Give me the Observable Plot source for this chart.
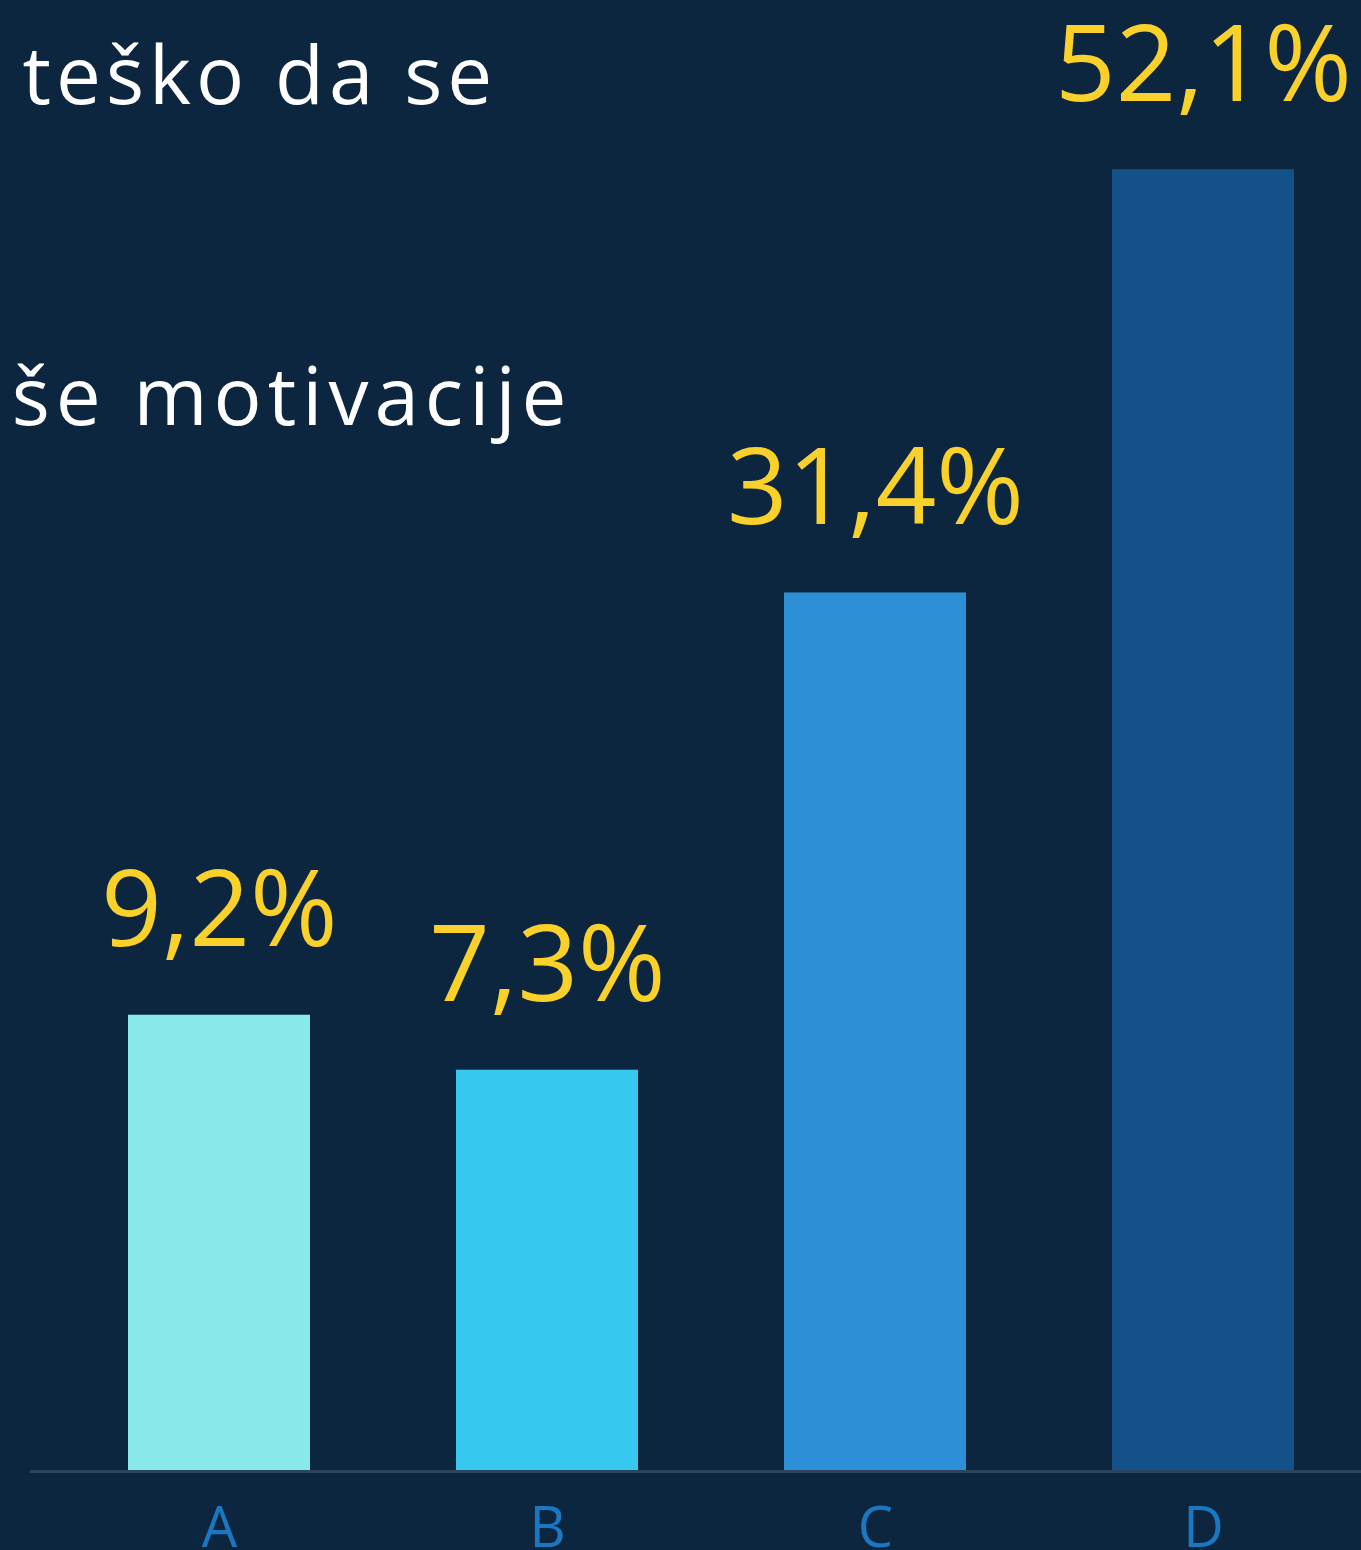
<!DOCTYPE html>
<html>
<head>
<meta charset="utf-8">
<script src="https://cdn.jsdelivr.net/npm/d3@7"></script>
<script src="https://cdn.jsdelivr.net/npm/@observablehq/plot@0.6"></script>
<style>
  html, body { margin: 0; padding: 0; background: #0d2640; overflow: hidden; }
  #chart svg { display: block; }
</style>
</head>
<body>
<div id="chart"></div>
<script>
// Categories and values
const categories = ["A", "B", "C", "D"];
const barHeights = [18.26, 16.06, 35.16, 52.1];       // bar lengths as drawn
const valueLabels = ["9,2%", "7,3%", "31,4%", "52,1%"]; // printed labels
const barColors = ["#88e9e8", "#37c8ef", "#2d8fd5", "#155189"];
const headerLines = ["teško da se", "više motivacije"];

const data = categories.map((c, i) => ({
  cat: c, h: barHeights[i], label: valueLabels[i], color: barColors[i]
}));

const W = 1361, H = 1550;

const plot = Plot.plot({
  width: W,
  height: H,
  marginTop: 0,
  marginBottom: 79,
  marginLeft: 30,
  marginRight: 0,
  style: { background: "#0d2640", fontFamily: "'Open Sans', sans-serif", overflow: "visible" },
  x: { domain: categories, range: [54, 1367.3], paddingInner: 0.446, paddingOuter: 0.223, axis: null },
  y: { domain: [0, 58.87], axis: null },
  marks: [
    Plot.barY(data, { x: "cat", y: "h", fill: "color" }),
    Plot.ruleY([0], { stroke: "#2c445e", strokeWidth: 3 }),
    Plot.text(data, {
      x: "cat", y: "h", text: "label",
      dy: -69, lineAnchor: "bottom", textAnchor: "middle",
      fill: "#f9d12a", fontSize: 106
    }),
    Plot.axisX({
      tickSize: 0, tickPadding: 36, fontSize: 56, color: "#1a78c2", label: null
    }),
    Plot.text([headerLines[0]], {
      frameAnchor: "top-left", dx: -8, dy: 103, lineAnchor: "bottom", textAnchor: "start",
      fill: "#ffffff", fontSize: 80, text: d => d
    }),
    Plot.text([headerLines[1]], {
      frameAnchor: "top-left", dx: 542, dy: 424, lineAnchor: "bottom", textAnchor: "end",
      fill: "#ffffff", fontSize: 80, text: d => d
    })
  ]
});

// widen header lettering to match the reference's wide face
d3.select(plot).selectAll("text")
  .filter(function () { return this.textContent === headerLines[0]; })
  .style("letter-spacing", "5px");
d3.select(plot).selectAll("text")
  .filter(function () { return this.textContent === headerLines[1]; })
  .style("letter-spacing", "6px");

document.getElementById("chart").appendChild(plot);
</script>
</body>
</html>
